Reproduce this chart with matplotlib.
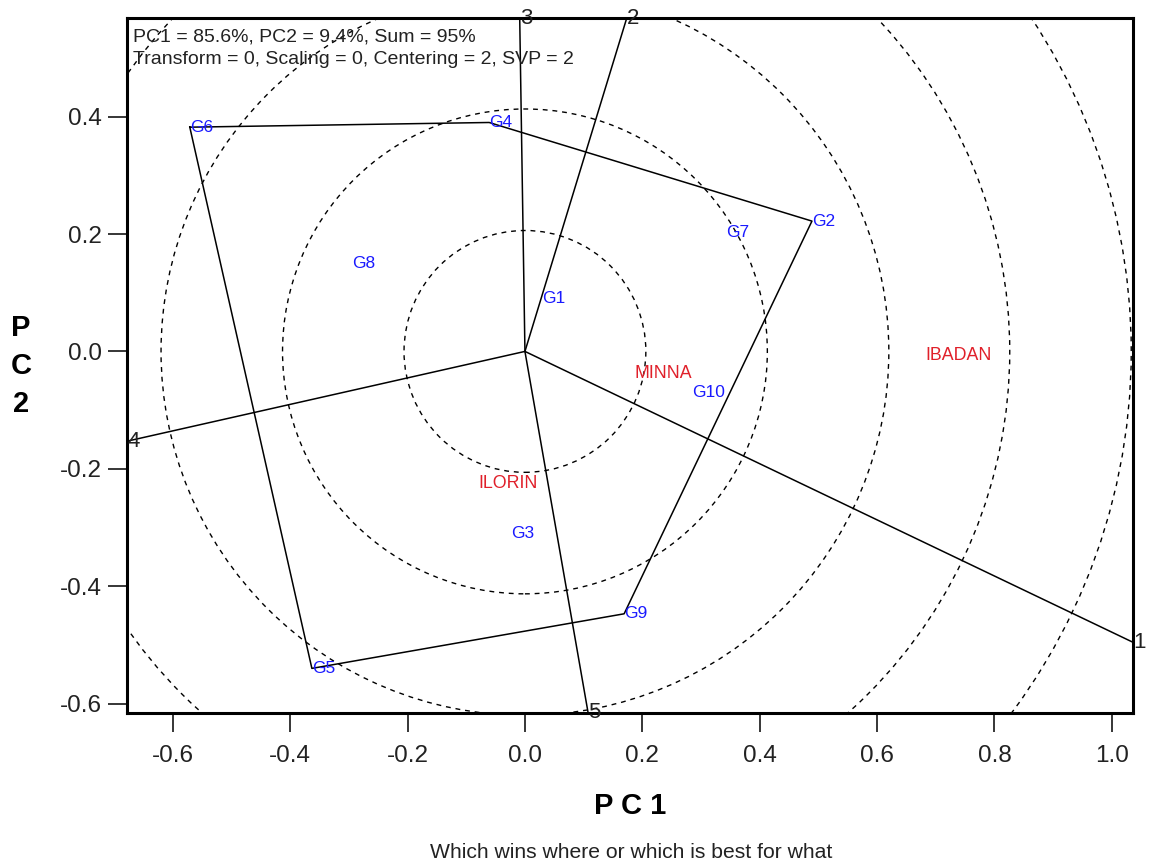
import matplotlib
matplotlib.use('Agg')
import matplotlib.pyplot as plt
from matplotlib.patches import Circle
import numpy as np

plt.rcParams['font.family'] = ['Liberation Sans', 'DejaVu Sans']
plt.rcParams['axes.unicode_minus'] = False

# genotype scores (label starts at the point)
genotypes = ['G1', 'G2', 'G3', 'G4', 'G5', 'G6', 'G7', 'G8', 'G9', 'G10']
gen_pc1 = [0.029, 0.489, -0.024, -0.061, -0.363, -0.571, 0.342, -0.295, 0.169, 0.285]
gen_pc2 = [0.090, 0.222, -0.310, 0.390, -0.540, 0.382, 0.203, 0.150, -0.447, -0.070]

# environment scores
environments = ['IBADAN', 'MINNA', 'ILORIN']
env_pc1 = [0.683, 0.187, -0.080]
env_pc2 = [-0.007, -0.038, -0.225]

# polygon vertices (in order) and sector number of each side
hull = ['G6', 'G4', 'G2', 'G9', 'G5']
sector_labels = ['3', '2', '1', '5', '4']

circle_radii = [0.206, 0.413, 0.620, 0.826, 1.033, 1.240]

xlim = (-0.678, 1.036)
ylim = (-0.616, 0.568)
xticks = [-0.6, -0.4, -0.2, 0.0, 0.2, 0.4, 0.6, 0.8, 1.0]
yticks = [-0.6, -0.4, -0.2, 0.0, 0.2, 0.4]

W, H = 1151, 866
fig = plt.figure(figsize=(W / 100, H / 100), dpi=100)
ax = fig.add_axes([127 / W, 1 - 713 / H, (1133 - 127) / W, (713 - 18) / H])
ax.set_xlim(*xlim)
ax.set_ylim(*ylim)

# concentric dashed circles
for r in circle_radii:
    ax.add_patch(Circle((0, 0), r, fill=False, color='black', lw=1.0,
                        linestyle=(0, (3.5, 3.5))))

# polygon
px = [gen_pc1[genotypes.index(g)] for g in hull]
py = [gen_pc2[genotypes.index(g)] for g in hull]
ax.plot(px + [px[0]], py + [py[0]], color='black', lw=1.1)

# perpendicular rays from origin to each side
for i, lab in enumerate(sector_labels):
    p1 = np.array([px[i], py[i]])
    p2 = np.array([px[(i + 1) % len(px)], py[(i + 1) % len(py)]])
    d = p2 - p1
    t = -p1.dot(d) / d.dot(d)
    foot = p1 + t * d
    dx, dy = foot
    tx = (xlim[1] / dx) if dx > 0 else (xlim[0] / dx)
    ty = (ylim[1] / dy) if dy > 0 else (ylim[0] / dy)
    s = min(tx, ty)
    ex, ey = dx * s, dy * s
    ax.plot([0, ex], [0, ey], color='black', lw=1.1)
    ax.text(ex, ey, lab, ha='left', va='center', fontsize=16,
            color='#222222', clip_on=False)

for g, x, y in zip(genotypes, gen_pc1, gen_pc2):
    ax.text(x, y, g, ha='left', va='center', fontsize=12.5, color='#1a1aff')

for e, x, y in zip(environments, env_pc1, env_pc2):
    ax.text(x, y, e, ha='left', va='center', fontsize=12.8, color='#e0202a')

for sp in ax.spines.values():
    sp.set_linewidth(2.2)
ax.set_xticks(xticks)
ax.set_yticks(yticks)
ax.set_xticklabels(['%.1f' % v for v in xticks])
ax.set_yticklabels(['%.1f' % v for v in yticks])
ax.tick_params(direction='out', length=14, width=1.1, labelsize=17.5,
               labelcolor='#222222', pad=4)
ax.tick_params(axis='x', pad=9)

fig.text(133 / W, 1 - 37 / H, 'PC1 = 85.6%, PC2 = 9.4%, Sum = 95%',
         ha='left', va='center', fontsize=14, color='#222222')
fig.text(133 / W, 1 - 60 / H, 'Transform = 0, Scaling = 0, Centering = 2, SVP = 2',
         ha='left', va='center', fontsize=14, color='#222222')

fig.text(630 / W, 1 - 806 / H, 'P C 1', ha='center', va='center',
         fontsize=21, fontweight='bold')
fig.text(21 / W, 1 - 366 / H, 'P\nC\n2', ha='center', va='center',
         fontsize=21, fontweight='bold', linespacing=1.45)
fig.text(631 / W, 1 - 852 / H, 'Which wins where or which is best for what',
         ha='center', va='center', fontsize=15.2, color='#222222')

fig.savefig('out.png', dpi=100)
